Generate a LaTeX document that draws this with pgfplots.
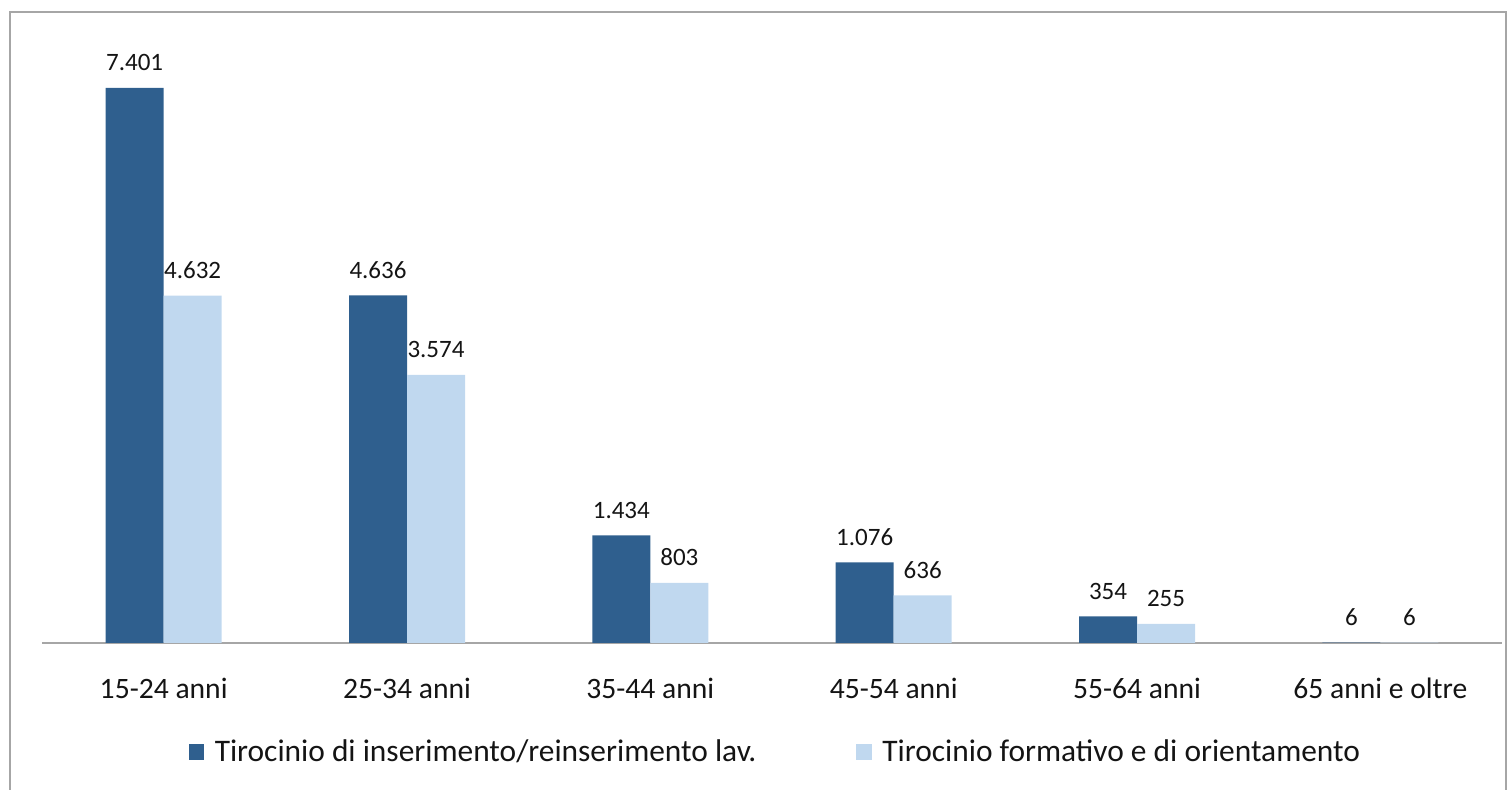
\documentclass[border=0pt]{standalone}
\usepackage{fontspec}
\setmainfont{Carlito}
\usepackage{pgfplots}
\pgfplotsset{compat=1.18}
\definecolor{darkbar}{RGB}{47,95,142}
\definecolor{lightbar}{RGB}{192,216,239}
\definecolor{framegray}{RGB}{166,166,166}
\definecolor{txt}{RGB}{20,20,20}
\begin{document}
\begin{tikzpicture}
\path[use as bounding box] (0pt,0pt) rectangle (754.5pt,395pt);
\draw[framegray, line width=0.9pt] (5pt,-2pt) -- (5pt,389pt) -- (753pt,389pt) -- (753pt,-2pt);
\begin{axis}[
  at={(21pt,73.5pt)}, anchor=south west,
  scale only axis, width=730pt, height=300pt,
  xmin=-0.5, xmax=5.5, ymin=0, ymax=8000,
  axis x line=bottom, axis y line=none,
  x axis line style={framegray, line width=0.9pt, -},
  xtick={0,1,2,3,4,5},
  xticklabels={15-24 anni,25-34 anni,35-44 anni,45-54 anni,55-64 anni,65 anni e oltre},
  major tick length=0pt,
  xticklabel style={anchor=base, yshift=-28pt, font=\fontsize{14.8}{18}\selectfont, text=txt},
  ybar, bar width=29pt,
  point meta=explicit symbolic,
  nodes near coords,
  every node near coord/.append style={anchor=base, yshift=8.5pt, font=\fontsize{12.5}{14}\selectfont, text=txt},
  legend columns=2,
  legend style={draw=none, fill=none, at={(axis description cs:0.503,-0.1817)}, anchor=center,
    font=\fontsize{15.7}{18}\selectfont, text=txt,
    /tikz/every even column/.append style={column sep=48pt}},
  legend image code/.code={\fill[#1] (0pt,-3.9pt) rectangle (7.8pt,3.9pt); \path (11pt,0pt);},
]
\addplot[fill=darkbar, draw=none, bar shift=-14.5pt] coordinates {
  (0,7401)[7.401] (1,4636)[4.636] (2,1434)[1.434] (3,1076)[1.076] (4,354)[354] (5,6)[6]};
\addlegendentry{Tirocinio di inserimento/reinserimento lav.}
\addplot[fill=lightbar, draw=none, bar shift=14.5pt] coordinates {
  (0,4632)[4.632] (1,3574)[3.574] (2,803)[803] (3,636)[636] (4,255)[255] (5,6)[6]};
\addlegendentry{Tirocinio formativo e di orientamento}
\end{axis}
\end{tikzpicture}
\end{document}
